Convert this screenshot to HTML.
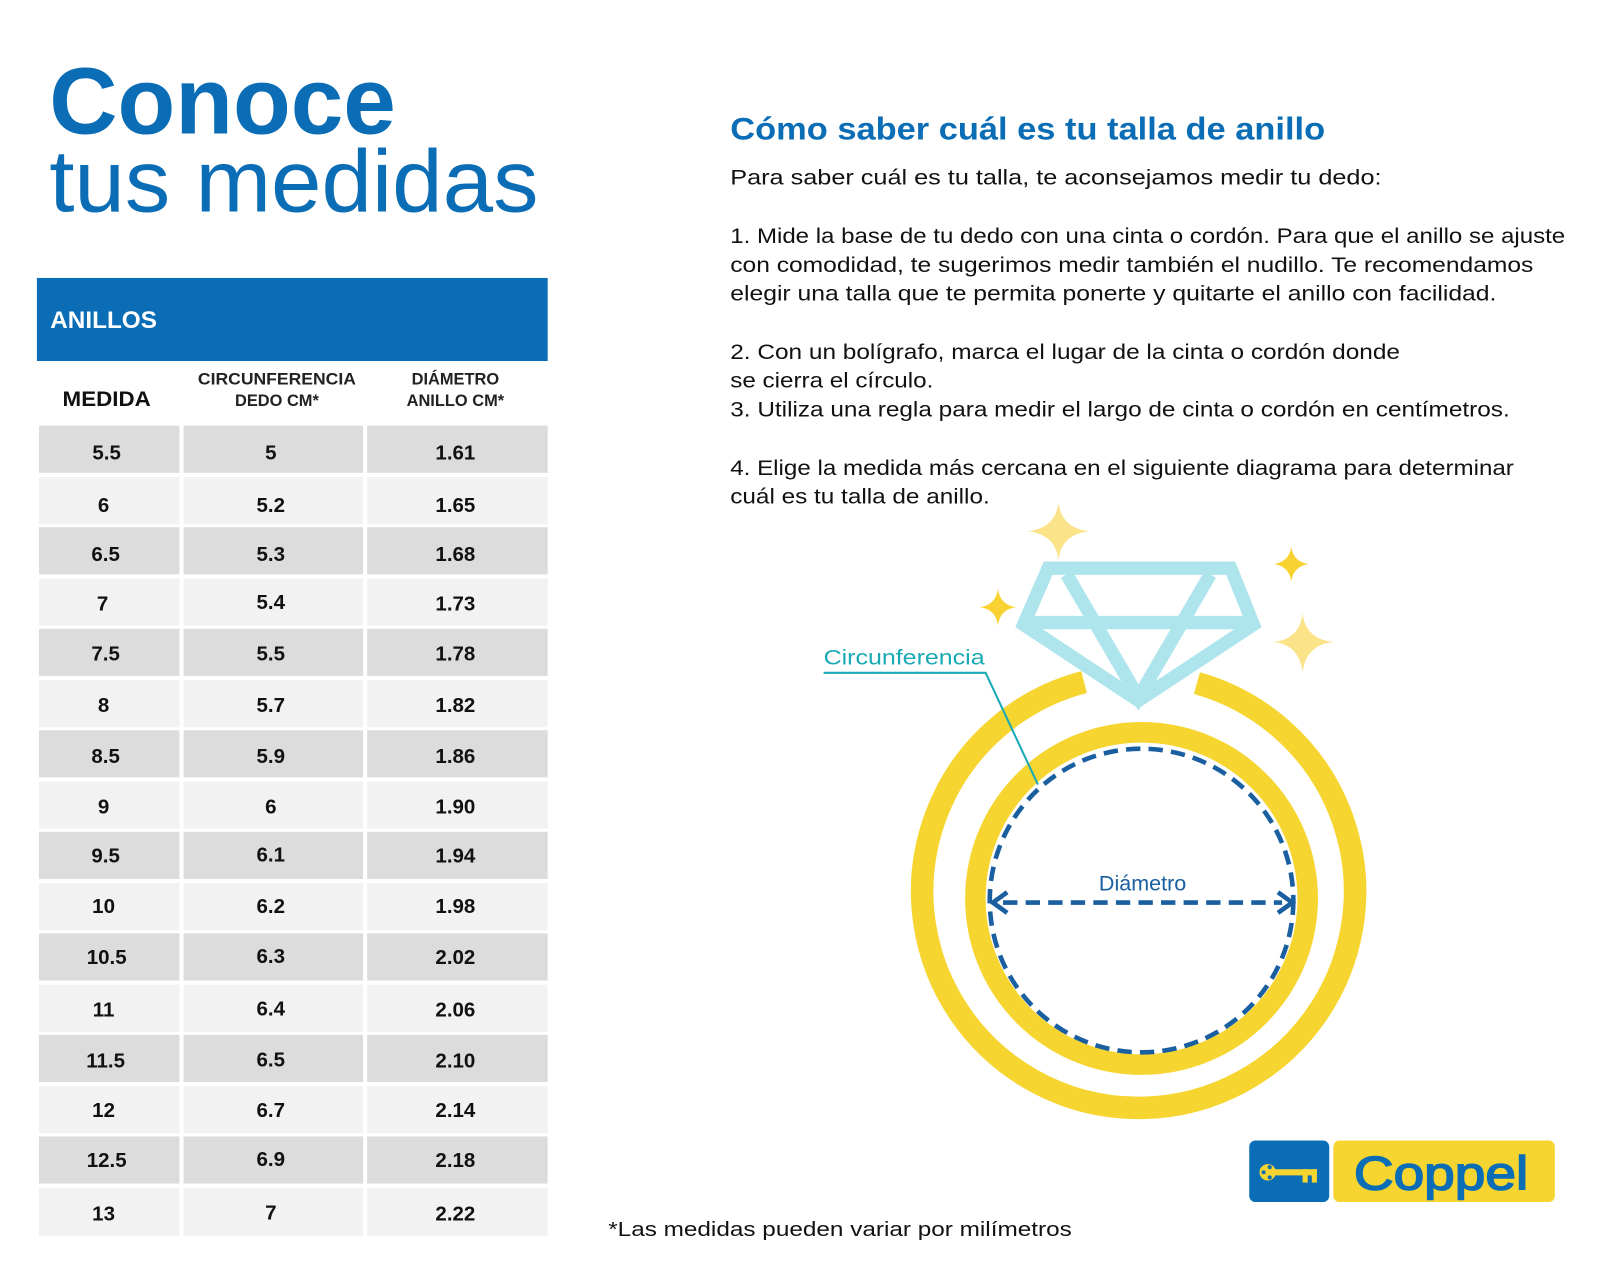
<!DOCTYPE html>
<html><head><meta charset="utf-8"><style>
html,body{margin:0;padding:0;background:#fff;}
svg{display:block;}
text{font-family:"Liberation Sans",sans-serif;}
</style></head><body>
<svg width="1600" height="1280" viewBox="0 0 1560 1248" preserveAspectRatio="none" xmlns="http://www.w3.org/2000/svg">
<rect width="1560" height="1248" fill="#fff"/>
<text x="48" y="130" font-size="92" font-weight="bold" fill="#0a6db5" textLength="338" lengthAdjust="spacingAndGlyphs">Conoce</text>
<text x="48" y="206" font-size="86" fill="#0a6db5" textLength="477" lengthAdjust="spacingAndGlyphs">tus medidas</text>
<rect x="36" y="271" width="498" height="81" fill="#0a6db5"/>
<text x="49" y="320" font-size="23" font-weight="bold" fill="#fff" textLength="104" lengthAdjust="spacingAndGlyphs">ANILLOS</text>
<text x="104" y="396" font-size="21" font-weight="bold" fill="#111" text-anchor="middle" textLength="86" lengthAdjust="spacingAndGlyphs">MEDIDA</text>
<text x="270" y="375" font-size="16" font-weight="bold" fill="#222" text-anchor="middle" textLength="154" lengthAdjust="spacingAndGlyphs">CIRCUNFERENCIA</text>
<text x="270" y="396" font-size="16" font-weight="bold" fill="#222" text-anchor="middle">DEDO CM*</text>
<text x="444" y="375" font-size="16" font-weight="bold" fill="#222" text-anchor="middle">DIÁMETRO</text>
<text x="444" y="396" font-size="16" font-weight="bold" fill="#222" text-anchor="middle">ANILLO CM*</text>
<g font-size="20" font-weight="bold" fill="#111" text-anchor="middle">
<rect x="38" y="415" width="137" height="46" fill="#dcdcdc"/><rect x="179" y="415" width="175" height="46" fill="#dcdcdc"/><rect x="358" y="415" width="176" height="46" fill="#dcdcdc"/>
<text x="104" y="448">5.5</text><text x="264" y="448">5</text><text x="444" y="448">1.61</text>
<rect x="38" y="465" width="137" height="46" fill="#f2f2f2"/><rect x="179" y="465" width="175" height="46" fill="#f2f2f2"/><rect x="358" y="465" width="176" height="46" fill="#f2f2f2"/>
<text x="101" y="499">6</text><text x="264" y="499">5.2</text><text x="444" y="499">1.65</text>
<rect x="38" y="514" width="137" height="46" fill="#dcdcdc"/><rect x="179" y="514" width="175" height="46" fill="#dcdcdc"/><rect x="358" y="514" width="176" height="46" fill="#dcdcdc"/>
<text x="103" y="547">6.5</text><text x="264" y="547">5.3</text><text x="444" y="547">1.68</text>
<rect x="38" y="564" width="137" height="46" fill="#f2f2f2"/><rect x="179" y="564" width="175" height="46" fill="#f2f2f2"/><rect x="358" y="564" width="176" height="46" fill="#f2f2f2"/>
<text x="100" y="595">7</text><text x="264" y="594">5.4</text><text x="444" y="595">1.73</text>
<rect x="38" y="613" width="137" height="46" fill="#dcdcdc"/><rect x="179" y="613" width="175" height="46" fill="#dcdcdc"/><rect x="358" y="613" width="176" height="46" fill="#dcdcdc"/>
<text x="103" y="644">7.5</text><text x="264" y="644">5.5</text><text x="444" y="644">1.78</text>
<rect x="38" y="663" width="137" height="46" fill="#f2f2f2"/><rect x="179" y="663" width="175" height="46" fill="#f2f2f2"/><rect x="358" y="663" width="176" height="46" fill="#f2f2f2"/>
<text x="101" y="694">8</text><text x="264" y="694">5.7</text><text x="444" y="694">1.82</text>
<rect x="38" y="712" width="137" height="46" fill="#dcdcdc"/><rect x="179" y="712" width="175" height="46" fill="#dcdcdc"/><rect x="358" y="712" width="176" height="46" fill="#dcdcdc"/>
<text x="103" y="744">8.5</text><text x="264" y="744">5.9</text><text x="444" y="744">1.86</text>
<rect x="38" y="762" width="137" height="46" fill="#f2f2f2"/><rect x="179" y="762" width="175" height="46" fill="#f2f2f2"/><rect x="358" y="762" width="176" height="46" fill="#f2f2f2"/>
<text x="101" y="793">9</text><text x="264" y="793">6</text><text x="444" y="793">1.90</text>
<rect x="38" y="811" width="137" height="46" fill="#dcdcdc"/><rect x="179" y="811" width="175" height="46" fill="#dcdcdc"/><rect x="358" y="811" width="176" height="46" fill="#dcdcdc"/>
<text x="103" y="841">9.5</text><text x="264" y="840">6.1</text><text x="444" y="841">1.94</text>
<rect x="38" y="861" width="137" height="46" fill="#f2f2f2"/><rect x="179" y="861" width="175" height="46" fill="#f2f2f2"/><rect x="358" y="861" width="176" height="46" fill="#f2f2f2"/>
<text x="101" y="890">10</text><text x="264" y="890">6.2</text><text x="444" y="890">1.98</text>
<rect x="38" y="910" width="137" height="46" fill="#dcdcdc"/><rect x="179" y="910" width="175" height="46" fill="#dcdcdc"/><rect x="358" y="910" width="176" height="46" fill="#dcdcdc"/>
<text x="104" y="940">10.5</text><text x="264" y="939">6.3</text><text x="444" y="940">2.02</text>
<rect x="38" y="960" width="137" height="46" fill="#f2f2f2"/><rect x="179" y="960" width="175" height="46" fill="#f2f2f2"/><rect x="358" y="960" width="176" height="46" fill="#f2f2f2"/>
<text x="101" y="991">11</text><text x="264" y="990">6.4</text><text x="444" y="991">2.06</text>
<rect x="38" y="1009" width="137" height="46" fill="#dcdcdc"/><rect x="179" y="1009" width="175" height="46" fill="#dcdcdc"/><rect x="358" y="1009" width="176" height="46" fill="#dcdcdc"/>
<text x="103" y="1041">11.5</text><text x="264" y="1040">6.5</text><text x="444" y="1041">2.10</text>
<rect x="38" y="1059" width="137" height="46" fill="#f2f2f2"/><rect x="179" y="1059" width="175" height="46" fill="#f2f2f2"/><rect x="358" y="1059" width="176" height="46" fill="#f2f2f2"/>
<text x="101" y="1089">12</text><text x="264" y="1089">6.7</text><text x="444" y="1089">2.14</text>
<rect x="38" y="1108" width="137" height="46" fill="#dcdcdc"/><rect x="179" y="1108" width="175" height="46" fill="#dcdcdc"/><rect x="358" y="1108" width="176" height="46" fill="#dcdcdc"/>
<text x="104" y="1138">12.5</text><text x="264" y="1137">6.9</text><text x="444" y="1138">2.18</text>
<rect x="38" y="1158" width="137" height="47" fill="#f2f2f2"/><rect x="179" y="1158" width="175" height="47" fill="#f2f2f2"/><rect x="358" y="1158" width="176" height="47" fill="#f2f2f2"/>
<text x="101" y="1190">13</text><text x="264" y="1189">7</text><text x="444" y="1190">2.22</text>
</g>

<text x="712" y="136" font-size="31" font-weight="bold" fill="#0a6db5" textLength="580" lengthAdjust="spacingAndGlyphs">Cómo saber cuál es tu talla de anillo</text>
<g font-size="21" fill="#111">
<text x="712" y="180" textLength="635" lengthAdjust="spacingAndGlyphs">Para saber cuál es tu talla, te aconsejamos medir tu dedo:</text>
<text x="712" y="237" textLength="814" lengthAdjust="spacingAndGlyphs">1. Mide la base de tu dedo con una cinta o cordón. Para que el anillo se ajuste</text>
<text x="712" y="265" textLength="783" lengthAdjust="spacingAndGlyphs">con comodidad, te sugerimos medir también el nudillo. Te recomendamos</text>
<text x="712" y="293" textLength="747" lengthAdjust="spacingAndGlyphs">elegir una talla que te permita ponerte y quitarte el anillo con facilidad.</text>
<text x="712" y="350" textLength="653" lengthAdjust="spacingAndGlyphs">2. Con un bolígrafo, marca el lugar de la cinta o cordón donde</text>
<text x="712" y="378" textLength="198" lengthAdjust="spacingAndGlyphs">se cierra el círculo.</text>
<text x="712" y="406" textLength="760" lengthAdjust="spacingAndGlyphs">3. Utiliza una regla para medir el largo de cinta o cordón en centímetros.</text>
<text x="712" y="463" textLength="764" lengthAdjust="spacingAndGlyphs">4. Elige la medida más cercana en el siguiente diagrama para determinar</text>
<text x="712" y="491" textLength="253" lengthAdjust="spacingAndGlyphs">cuál es tu talla de anillo.</text>
</g>

<g fill="#fbe38a">
<path d="M1032 490 Q1035 515 1062 518 Q1035 521 1032 546 Q1029 521 1002 518 Q1029 515 1032 490Z"/>
<path d="M1270 598 Q1273 623 1300 626 Q1273 629 1270 656 Q1267 629 1242 626 Q1267 623 1270 598Z"/>
</g>
<g fill="#f7d230">
<path d="M1259 533 Q1261 548 1276 550 Q1261 552 1259 567 Q1257 552 1242 550 Q1257 548 1259 533Z"/>
<path d="M973 574 Q975 590 991 592 Q975 594 973 610 Q971 594 955 592 Q971 590 973 574Z"/>
</g>
<g fill="none" stroke="#aee4ec" stroke-width="13" stroke-linejoin="miter">
<path d="M1022 554 L1200 554 L1222 609 L1110 683 L998 609 Z"/>
<path d="M1001 607 L1219 607"/>
<path d="M1040 560 L1110 680 L1180 560"/>
</g>
<path d="M1057 665 A211 211 0 1 0 1167 666" fill="none" stroke="#f7d530" stroke-width="22"/>
<circle cx="1113" cy="876" r="162" fill="none" stroke="#f7d530" stroke-width="20"/>
<circle cx="1113" cy="878" r="148" fill="none" stroke="#1a5fa0" stroke-width="4.5" stroke-dasharray="14 8"/>
<line x1="978" y1="880" x2="1250" y2="880" stroke="#1a5fa0" stroke-width="4.5" stroke-dasharray="14 8"/>
<path d="M982 870 L968 880 L982 890" fill="none" stroke="#1a5fa0" stroke-width="4.5"/>
<path d="M1246 870 L1260 880 L1246 890" fill="none" stroke="#1a5fa0" stroke-width="4.5"/>
<text x="1114" y="868" font-size="21" fill="#1a5fa0" text-anchor="middle">Diámetro</text>
<text x="803" y="648" font-size="21" fill="#1aaab5" textLength="157" lengthAdjust="spacingAndGlyphs">Circunferencia</text>
<path d="M803 656 L961 656 L1012 765" fill="none" stroke="#1aaab5" stroke-width="2"/>
<rect x="1218" y="1112" width="78" height="60" rx="6" fill="#0a6db5"/>
<g fill="#f7d530">
<circle cx="1236" cy="1143" r="8"/><rect x="1238" y="1140" width="46" height="6"/><rect x="1270" y="1140" width="5" height="13"/><rect x="1279" y="1140" width="5" height="13"/>
</g>
<g fill="#0a6db5"><circle cx="1232" cy="1143" r="2"/><circle cx="1238" cy="1138" r="2"/><circle cx="1238" cy="1148" r="2"/></g>
<rect x="1300" y="1112" width="216" height="60" rx="6" fill="#f7d530"/>
<text x="1320" y="1160" font-size="46" fill="#0a6db5" textLength="170" lengthAdjust="spacingAndGlyphs" stroke="#0a6db5" stroke-width="1.5">Coppel</text>
<text x="593" y="1205" font-size="20" fill="#111" textLength="452" lengthAdjust="spacingAndGlyphs">*Las medidas pueden variar por milímetros</text>
</svg>
</body></html>
